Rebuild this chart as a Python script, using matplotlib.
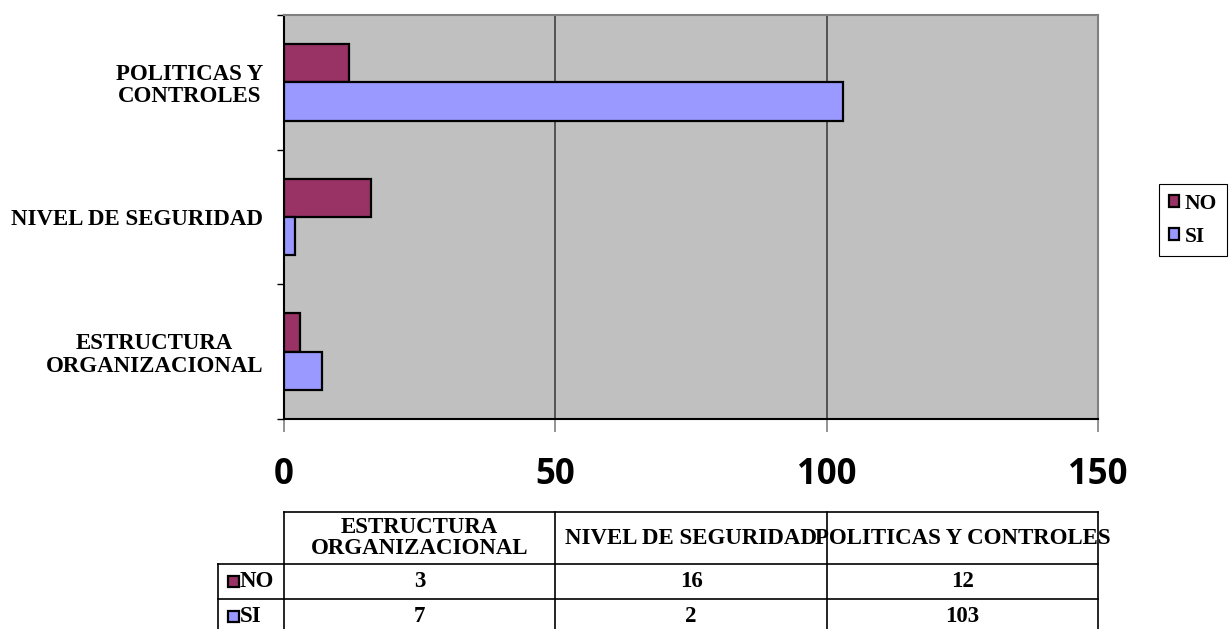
import matplotlib
matplotlib.use("Agg")
import matplotlib.pyplot as plt
import numpy as np
from matplotlib.patches import Rectangle, Patch
from matplotlib.lines import Line2D

categories = ["ESTRUCTURA\nORGANIZACIONAL", "NIVEL DE SEGURIDAD", "POLITICAS Y\nCONTROLES"]
table_headers = ["ESTRUCTURA\nORGANIZACIONAL", "NIVEL DE SEGURIDAD", "POLITICAS Y CONTROLES"]
series_names = ["NO", "SI"]
no_values = [3, 16, 12]
si_values = [7, 2, 103]
x_ticks = [0, 50, 100, 150]
colors = {"NO": "#993366", "SI": "#9999FF"}

W, H = 1232, 629
fig = plt.figure(figsize=(W / 100, H / 100), dpi=100)
fig.patch.set_facecolor("white")

def fx(px):
    return px / W

def fy(py):
    return 1 - py / H

ax_l, ax_r, ax_t, ax_b = 284, 1098, 15, 419
ax = fig.add_axes([fx(ax_l), fy(ax_b), fx(ax_r) - fx(ax_l), fy(ax_t) - fy(ax_b)])
ax.set_facecolor("#C0C0C0")

serif = "Liberation Serif"
y = np.arange(len(categories))
h = 1 / 3.5
ax.barh(y + h / 2, no_values, height=h, color=colors["NO"], edgecolor="black", linewidth=1.6, zorder=3)
ax.barh(y - h / 2, si_values, height=h, color=colors["SI"], edgecolor="black", linewidth=1.6, zorder=3)

ax.set_xlim(0, 150)
ax.set_ylim(-0.5, len(categories) - 0.5)

ax.set_xticks(x_ticks)
ax.set_xticklabels([str(v) for v in x_ticks], fontfamily="Open Sans", fontweight="bold", fontsize=25)
ax.xaxis.grid(True, color="#404040", linewidth=1.2, zorder=1)
ax.set_axisbelow(True)
ax.tick_params(axis="x", length=9.5, width=1.2, color="#808080", pad=17.5, labelcolor="black")

ax.set_yticks(np.arange(-0.5, len(categories), 1.0))
ax.set_yticklabels([])
ax.tick_params(axis="y", which="major", length=5, width=1, color="black")
ax.set_yticks(y, minor=True)
ax.set_yticklabels(categories, minor=True, fontfamily=serif, fontweight="bold", fontsize=16.5,
                   multialignment="center", linespacing=1.1)
ax.tick_params(axis="y", which="minor", length=0, pad=15)

for s in ["top", "right"]:
    ax.spines[s].set_color("#808080")
    ax.spines[s].set_linewidth(1.5)
ax.spines["left"].set_color("black")
ax.spines["left"].set_linewidth(1.5)
ax.spines["bottom"].set_color("black")
ax.spines["bottom"].set_linewidth(1.5)

# legend
handles = [Patch(facecolor=colors[n], edgecolor="black", linewidth=1.6) for n in series_names]
leg = fig.legend(handles, series_names, loc="upper left", bbox_to_anchor=(fx(1159), fy(184)),
                 prop={"family": serif, "weight": "bold", "size": 15.5},
                 handlelength=0.5, handleheight=0.5, handletextpad=0.25, labelspacing=0.6,
                 borderpad=0.45, borderaxespad=0, frameon=True, fancybox=False, framealpha=1)
leg.get_frame().set_edgecolor("black")
leg.get_frame().set_linewidth(0.8)

# data table
ncol = len(categories)
col_edges = np.linspace(fx(ax_l), fx(ax_r), ncol + 1)
lab_left = fx(218)
row_edges_px = [512, 564, 599, 634]
row_y = [fy(p) for p in row_edges_px]
lw = 1.2

def line(x0, y0, x1, y1):
    fig.add_artist(Line2D([x0, x1], [y0, y1], transform=fig.transFigure, color="black",
                          linewidth=lw, clip_on=False))

line(col_edges[0], row_y[0], col_edges[-1], row_y[0])
for ry in row_y[1:]:
    line(lab_left, ry, col_edges[-1], ry)
for cx in col_edges:
    line(cx, row_y[0], cx, row_y[-1])
line(lab_left, row_y[1], lab_left, row_y[-1])

tprops = dict(fontfamily=serif, fontweight="bold", fontsize=16.5, color="black")
for i, hdr in enumerate(table_headers):
    cx = (col_edges[i] + col_edges[i + 1]) / 2
    fig.text(cx, (row_y[0] + row_y[1]) / 2, hdr, ha="center", va="center",
             multialignment="center", linespacing=1.05, **tprops)
rows = [no_values, si_values]
for r, (name, vals) in enumerate(zip(series_names, rows)):
    cy = (row_y[r + 1] + row_y[r + 2]) / 2
    for i, v in enumerate(vals):
        cx = (col_edges[i] + col_edges[i + 1]) / 2
        fig.text(cx, cy, str(v), ha="center", va="center", **tprops)
    sq = 11
    fig.add_artist(Rectangle((fx(228), cy - (sq / 2) / H), sq / W, sq / H, transform=fig.transFigure,
                             facecolor=colors[name], edgecolor="black", linewidth=1.6))
    fig.text(fx(240), cy, name, ha="left", va="center", **tprops)

fig.savefig("out.png", dpi=100)
